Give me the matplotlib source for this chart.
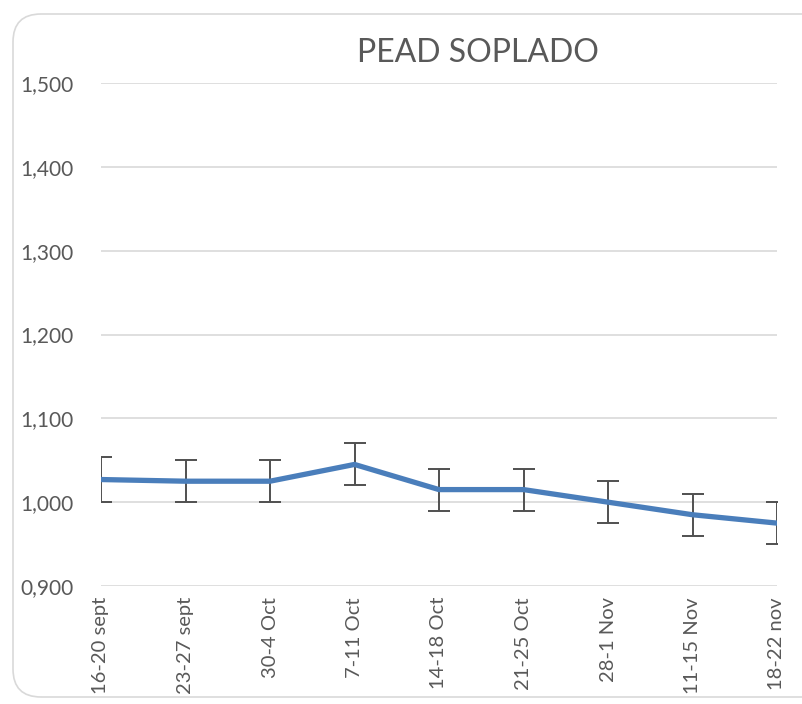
import matplotlib
matplotlib.use("Agg")
import matplotlib.pyplot as plt
from matplotlib.patches import FancyBboxPatch
from matplotlib.transforms import IdentityTransform
from matplotlib.ticker import FuncFormatter

weeks = ["16-20 sept", "23-27 sept", "30-4 Oct", "7-11 Oct", "14-18 Oct",
         "21-25 Oct", "28-1 Nov", "11-15 Nov", "18-22 nov"]
values = [1.027, 1.025, 1.025, 1.045, 1.015, 1.015, 1.000, 0.985, 0.975]
errors = [0.027, 0.025, 0.025, 0.025, 0.025, 0.025, 0.025, 0.025, 0.025]

plt.rcParams['font.family'] = ['Lato', 'DejaVu Sans']
txt = '#595959'

fig = plt.figure(figsize=(8.03, 7.04), dpi=100)
# rounded chart-area border, in pixels (origin bottom-left)
border = FancyBboxPatch((13, 7), 820, 683,
                        boxstyle="round,pad=0,rounding_size=28",
                        transform=IdentityTransform(), fill=False,
                        edgecolor='#d9d9d9', linewidth=1.2)
fig.patches.append(border)

ax = fig.add_axes([101 / 803, 118 / 704, 676 / 803, 503 / 704])
x = list(range(len(weeks)))
ax.errorbar(x, values, yerr=errors, color='#4a7ebb', linewidth=3.8,
            ecolor='#505050', elinewidth=1.4, capsize=8, capthick=1.4,
            solid_capstyle='round', zorder=3)
ax.set_xlim(0, len(weeks) - 1)
ax.set_ylim(0.9, 1.5)
ax.set_yticks([0.9, 1.0, 1.1, 1.2, 1.3, 1.4, 1.5])
ax.yaxis.set_major_formatter(FuncFormatter(lambda v, p: f"{v:.3f}".replace('.', ',')))
ax.set_xticks(x)
ax.set_xticklabels(weeks, rotation=90)
ax.grid(axis='y', color='#d9d9d9', linewidth=1.2)
ax.set_axisbelow(True)
for s in ax.spines.values():
    s.set_visible(False)
ax.tick_params(length=0, labelsize=14.5, colors=txt, pad=8)
ax.tick_params(axis='y', labelsize=15, pad=20)

fig.text(478 / 803, 1 - 53 / 704, "PEAD SOPLADO", ha='center', va='center',
         fontsize=23, color=txt)

fig.savefig("out.png", dpi=100)
